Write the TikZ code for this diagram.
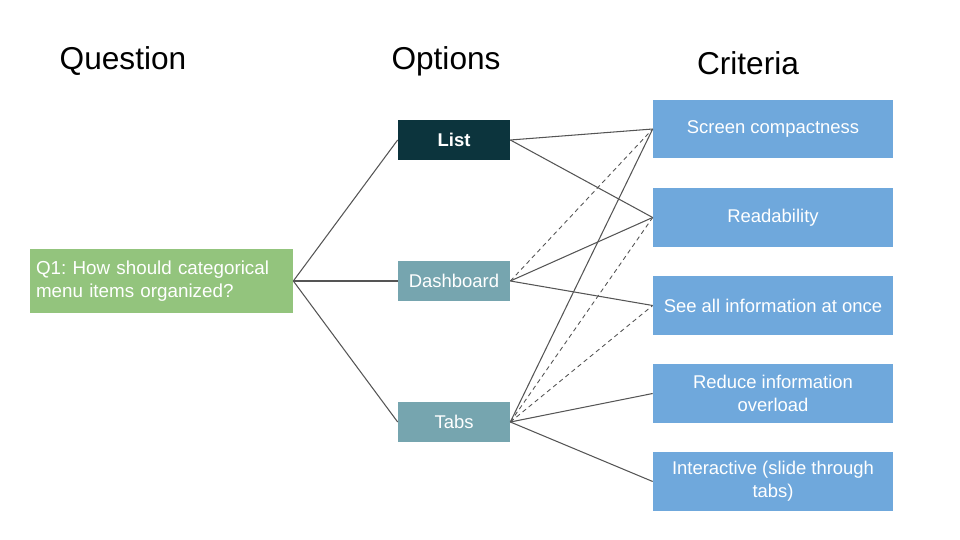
\documentclass[tikz,border=0pt]{standalone}
\usepackage{fontspec}
\setmainfont{Liberation Sans}
\usetikzlibrary{positioning}
\definecolor{qgreen}{HTML}{93C47D}
\definecolor{odark}{HTML}{0C343D}
\definecolor{oteal}{HTML}{76A5AF}
\definecolor{cblue}{HTML}{6FA8DC}
\definecolor{linkgray}{HTML}{555555}
\frenchspacing
\begin{document}
\begin{tikzpicture}[x=0.02cm,y=-0.02cm,
    header/.style={font=\fontsize{18}{22}\selectfont},
    question/.style={fill=qgreen,text=white,minimum height=1.28cm,text width=5.02cm,inner sep=0.12cm,align=left,font=\fontsize{10.7}{13.1}\selectfont},
    option/.style={fill=oteal,text=white,minimum width=2.24cm,minimum height=0.8cm,inner sep=0pt,font=\fontsize{10.5}{13}\selectfont},
    criterion/.style={fill=cblue,text=white,minimum width=4.8cm,minimum height=1.18cm,inner sep=0pt,align=center,font=\fontsize{10.5}{13}\selectfont},
    link/.style={draw=linkgray,line width=0.6pt},
    maybe/.style={link,dash pattern=on 2.5pt off 2pt,line width=0.5pt}]
				\useasboundingbox (0,0) rectangle (960,540);
				
				% column titles
				\node[header] (hq) at (123,61) {Question};
				\node[header] (ho) at (446,61) {Options};
				\node[header] (hc) at (748,63) {Criteria};
				
				% question
				\node[question] (q1) at (161.5,281) {Q1: How should categorical\\menu items organized?};
				
				% options
				\node[option,fill=odark,font=\fontsize{10.5}{13}\selectfont\bfseries] (list) at (454,140) {List};
				\node[option] (dash) at (454,281) {Dashboard};
				\node[option] (tabs) at (454,422) {Tabs};
				
				% criteria
				\node[criterion] (compact) at (773,129) {Screen compactness};
				\node[criterion] (read) at (773,217.5) {Readability};
				\node[criterion] (seeall) at (773,305.5) {See all information at once};
				\node[criterion] (overload) at (773,393.5) {Reduce information\\overload};
				\node[criterion] (slide) at (773,481.5) {Interactive (slide through\\tabs)};
				
				% question to options
				\draw[link] (q1.east) -- (list.west);
				\draw[link] (q1.east) -- (dash.west);
				\draw[link] (q1.east) -- (tabs.west);
				
				% options to criteria
				\draw[link] (list.east) -- (compact.west);
				\draw[link] (list.east) -- (read.west);
				\draw[maybe] (dash.east) -- (compact.west);
				\draw[link] (dash.east) -- (read.west);
				\draw[link] (dash.east) -- (seeall.west);
				\draw[link] (tabs.east) -- (compact.west);
				\draw[maybe] (tabs.east) -- (read.west);
				\draw[maybe] (tabs.east) -- (seeall.west);
				\draw[link] (tabs.east) -- (overload.west);
				\draw[link] (tabs.east) -- (slide.west);
\end{tikzpicture}
\end{document}
